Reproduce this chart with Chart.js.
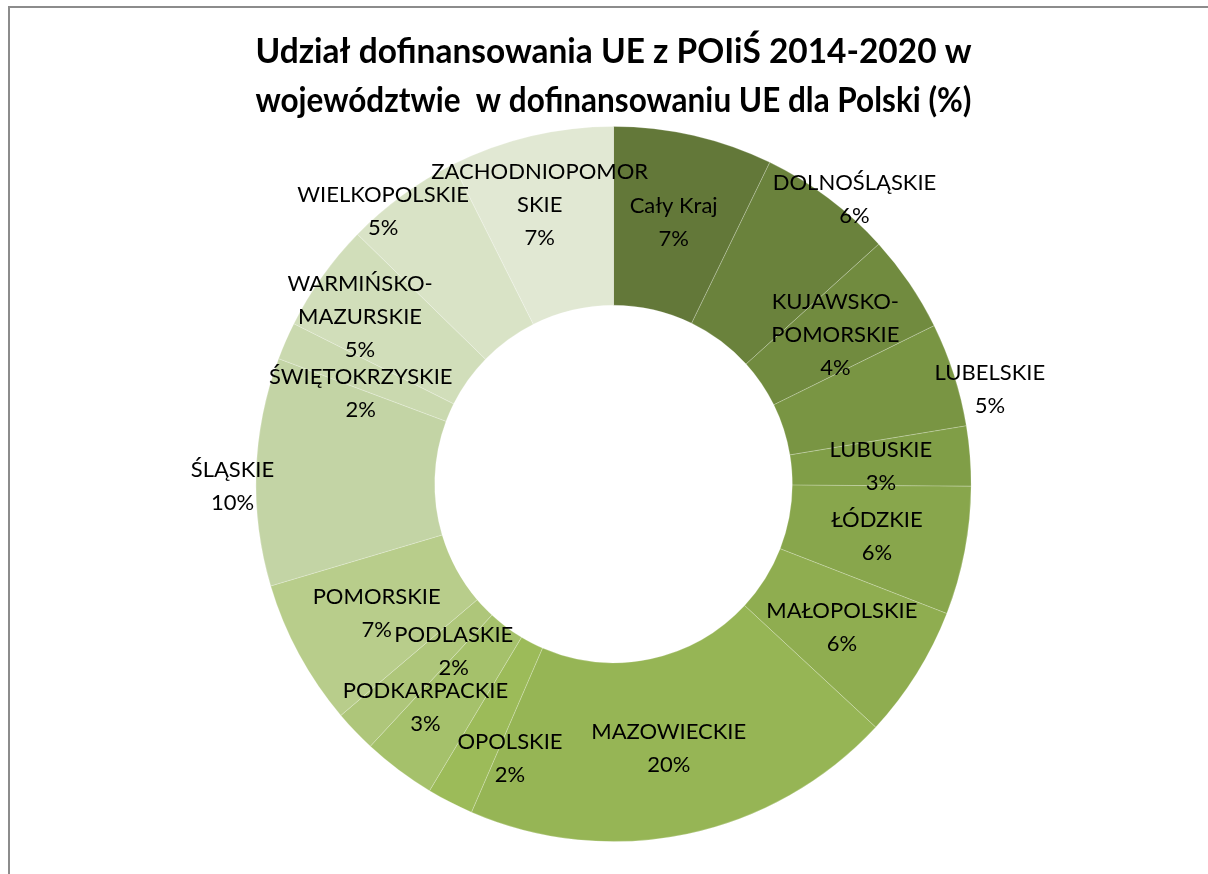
<!DOCTYPE html>
<html>
<head>
<meta charset="utf-8">
<script src="https://cdn.jsdelivr.net/npm/chart.js@4/dist/chart.umd.min.js"></script>
<style>
  html, body { margin: 0; padding: 0; background: #ffffff; }
  #wrap { position: relative; width: 1208px; height: 874px; overflow: hidden; }
  #frameLeft { position: absolute; left: 8px; top: 6px; width: 2px; height: 868px; background: #8c8c8c; }
  #frameTop { position: absolute; left: 8px; top: 6px; width: 1200px; height: 2px; background: #8c8c8c; }
  canvas { position: absolute; left: 0; top: 0; }
</style>
</head>
<body>
<div id="wrap">
  <canvas id="c" width="1208" height="874"></canvas>
  <div id="frameLeft"></div>
  <div id="frameTop"></div>
</div>
<script>
// ---- Data ----
const titleLines = [
  'Udział dofinansowania UE z POIiŚ 2014-2020 w',
  'województwie  w dofinansowaniu UE dla Polski (%)'
];
const categories = [
  ['Cały Kraj'],
  ['DOLNOŚLĄSKIE'],
  ['KUJAWSKO-', 'POMORSKIE'],
  ['LUBELSKIE'],
  ['LUBUSKIE'],
  ['ŁÓDZKIE'],
  ['MAŁOPOLSKIE'],
  ['MAZOWIECKIE'],
  ['OPOLSKIE'],
  ['PODKARPACKIE'],
  ['PODLASKIE'],
  ['POMORSKIE'],
  ['ŚLĄSKIE'],
  ['ŚWIĘTOKRZYSKIE'],
  ['WARMIŃSKO-', 'MAZURSKIE'],
  ['WIELKOPOLSKIE'],
  ['ZACHODNIOPOMOR', 'SKIE']
];
const shares = [7.2, 6.1, 4.4, 4.7, 2.7, 5.8, 6.0, 19.6, 2.1, 3.3, 1.9, 6.6, 10.3, 1.7, 4.9, 5.3, 7.4];

// ---- Styles ----
const palette = [
  '#637839', '#6a823c', '#718b3f', '#799543', '#809e47', '#88a64c', '#8fad50',
  '#96b555', '#9cbb59', '#a5c16b', '#aec67a', '#b8cd8b', '#c3d4a5', '#cad9af',
  '#d1deba', '#d9e3c6', '#e1e8d3'
];
// label nudges (px) relative to the middle of each ring segment
const labelNudge = [
  [0, 0], [80, -70], [0, 2], [121, -13], [0, 3], [0, 2], [1, 1], [0, 2],
  [19, 36], [-27, 9], [34, -18], [-1, 2], [-113, 12], [-7, 17], [-35, -12],
  [-72, -56], [-12, -18]
];
const labelFont = '22px Lato';
const labelLineH = 33;

const sliceLabels = {
  id: 'sliceLabels',
  afterDatasetsDraw(chart) {
    const ctx = chart.ctx;
    const meta = chart.getDatasetMeta(0);
    ctx.save();
    ctx.font = labelFont;
    ctx.fillStyle = '#000000';
    ctx.textAlign = 'center';
    ctx.textBaseline = 'middle';
    meta.data.forEach((arc, i) => {
      const p = arc.getProps(['x', 'y', 'startAngle', 'endAngle', 'innerRadius', 'outerRadius'], true);
      const mid = (p.startAngle + p.endAngle) / 2;
      const r = (p.innerRadius + p.outerRadius) / 2;
      const cx = p.x + Math.cos(mid) * r + labelNudge[i][0];
      const cy = p.y + Math.sin(mid) * r + labelNudge[i][1];
      const lines = categories[i].concat([Math.round(shares[i]) + '%']);
      const top = cy - (lines.length - 1) * labelLineH / 2;
      lines.forEach((t, k) => ctx.fillText(t, cx, top + k * labelLineH));
    });
    ctx.restore();
  }
};

new Chart(document.getElementById('c'), {
  type: 'doughnut',
  data: {
    labels: categories.map(l => l.join('')),
    datasets: [{
      data: shares,
      backgroundColor: palette,
      borderColor: 'rgba(255,255,255,0.28)',
      borderWidth: 0.8,
      hoverOffset: 0
    }]
  },
  options: {
    responsive: false,
    animation: false,
    devicePixelRatio: 1,
    cutout: '50%',
    rotation: 0,
    layout: { padding: { left: 255.5, right: 236.5, top: 24.5, bottom: 31.5 } },
    plugins: {
      legend: { display: false },
      tooltip: { enabled: false },
      title: {
        display: true,
        text: titleLines,
        color: '#000000',
        font: { family: 'Lato', size: 34, weight: 'bold', lineHeight: 49 / 34 },
        padding: { top: 3, bottom: 0 }
      }
    }
  },
  plugins: [sliceLabels]
});
</script>
</body>
</html>
